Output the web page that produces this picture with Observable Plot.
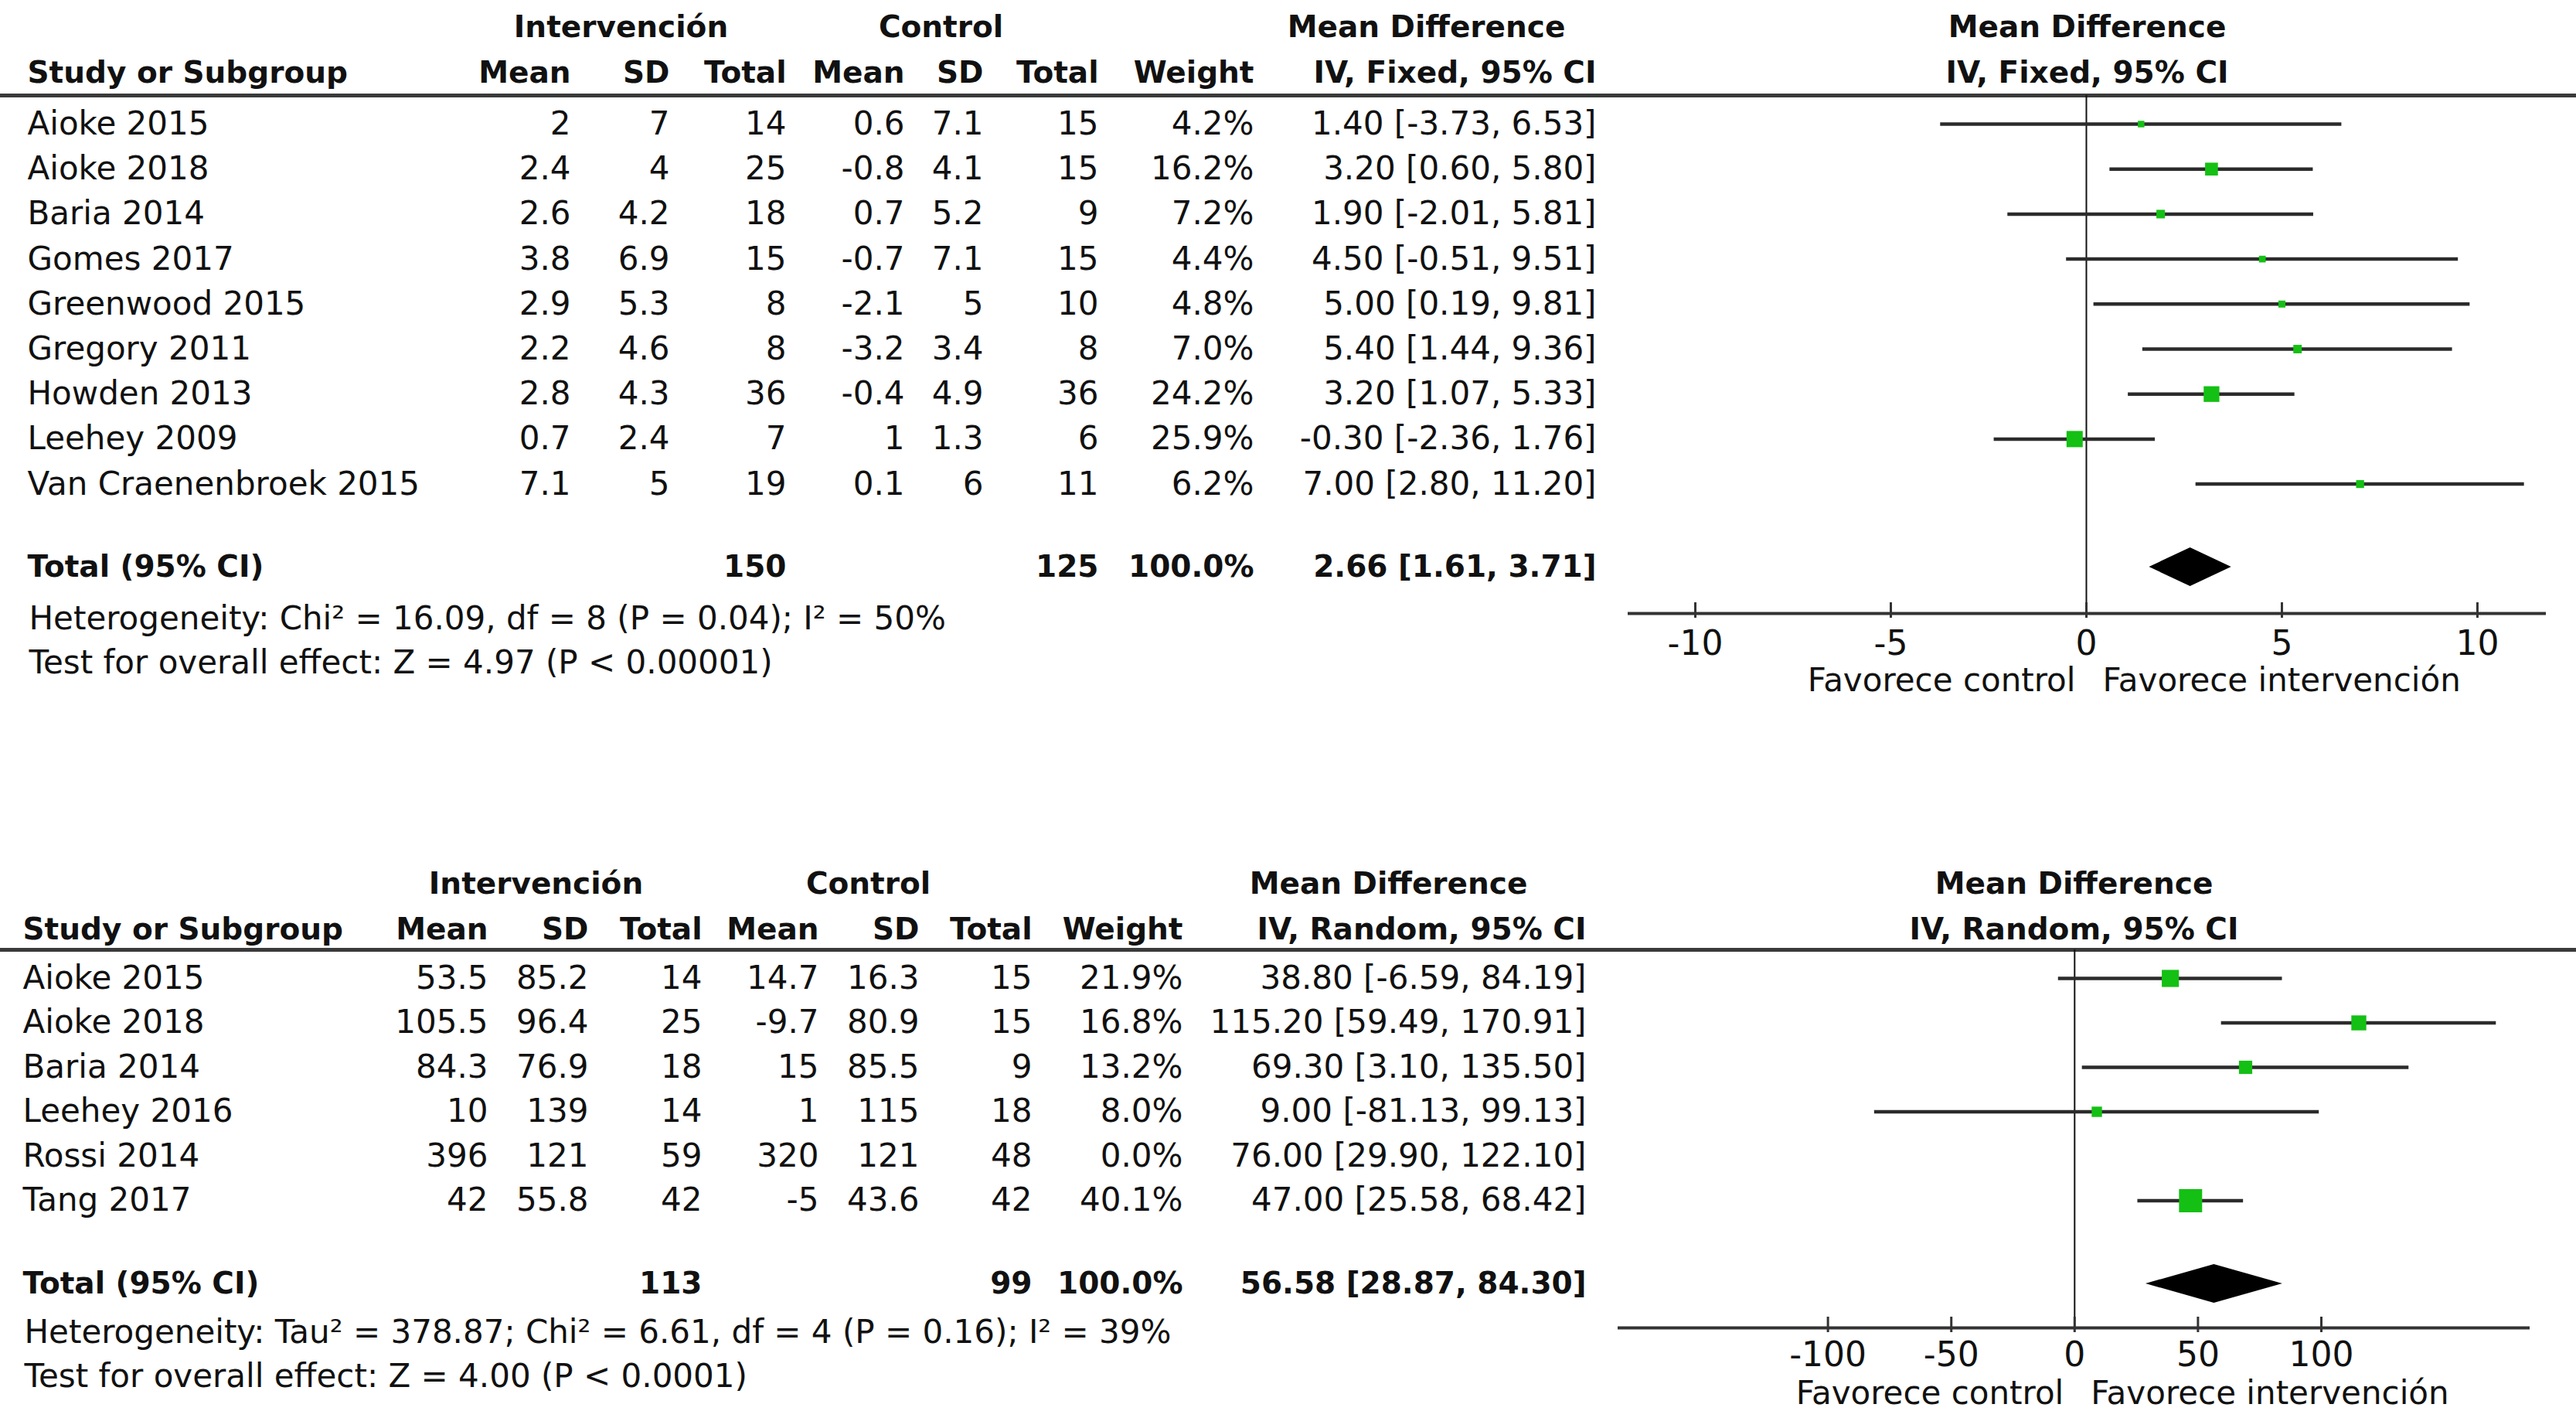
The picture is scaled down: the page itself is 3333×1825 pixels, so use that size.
<!DOCTYPE html>
<html><head><meta charset="utf-8">
<script src="https://cdn.jsdelivr.net/npm/d3@7"></script>
<script src="https://cdn.jsdelivr.net/npm/@observablehq/plot@0.6"></script>
<style>
html,body{margin:0;padding:0;background:#fff;}
#chart{width:3333px;height:1825px;position:relative;overflow:hidden;background:#fff;}
#chart svg{display:block;}
</style></head><body><div id="chart"></div>
<script>
// ---------- Panel 1 (IV, Fixed) ----------
const studies1 = ["Aioke 2015","Aioke 2018","Baria 2014","Gomes 2017","Greenwood 2015","Gregory 2011","Howden 2013","Leehey 2009","Van Craenenbroek 2015"];
const intMean1 = [2, 2.4, 2.6, 3.8, 2.9, 2.2, 2.8, 0.7, 7.1];
const intSD1   = [7, 4, 4.2, 6.9, 5.3, 4.6, 4.3, 2.4, 5];
const intN1    = [14, 25, 18, 15, 8, 8, 36, 7, 19];
const ctlMean1 = [0.6, -0.8, 0.7, -0.7, -2.1, -3.2, -0.4, 1, 0.1];
const ctlSD1   = [7.1, 4.1, 5.2, 7.1, 5, 3.4, 4.9, 1.3, 6];
const ctlN1    = [15, 15, 9, 15, 10, 8, 36, 6, 11];
const weight1  = [4.2, 16.2, 7.2, 4.4, 4.8, 7.0, 24.2, 25.9, 6.2];
const md1      = [1.40, 3.20, 1.90, 4.50, 5.00, 5.40, 3.20, -0.30, 7.00];
const lo1      = [-3.73, 0.60, -2.01, -0.51, 0.19, 1.44, 1.07, -2.36, 2.80];
const hi1      = [6.53, 5.80, 5.81, 9.51, 9.81, 9.36, 5.33, 1.76, 11.20];
const totalIntN1 = 150, totalCtlN1 = 125, totalWeight1 = 100.0;
const totalMD1 = 2.66, totalLo1 = 1.61, totalHi1 = 3.71;
const heterogeneity1 = "Heterogeneity: Chi² = 16.09, df = 8 (P = 0.04); I² = 50%";
const overall1 = "Test for overall effect: Z = 4.97 (P < 0.00001)";
const method1 = "IV, Fixed, 95% CI";
const xTicks1 = [-10, -5, 0, 5, 10];

// ---------- Panel 2 (IV, Random) ----------
const studies2 = ["Aioke 2015","Aioke 2018","Baria 2014","Leehey 2016","Rossi 2014","Tang 2017"];
const intMean2 = [53.5, 105.5, 84.3, 10, 396, 42];
const intSD2   = [85.2, 96.4, 76.9, 139, 121, 55.8];
const intN2    = [14, 25, 18, 14, 59, 42];
const ctlMean2 = [14.7, -9.7, 15, 1, 320, -5];
const ctlSD2   = [16.3, 80.9, 85.5, 115, 121, 43.6];
const ctlN2    = [15, 15, 9, 18, 48, 42];
const weight2  = [21.9, 16.8, 13.2, 8.0, 0.0, 40.1];
const md2      = [38.80, 115.20, 69.30, 9.00, 76.00, 47.00];
const lo2      = [-6.59, 59.49, 3.10, -81.13, 29.90, 25.58];
const hi2      = [84.19, 170.91, 135.50, 99.13, 122.10, 68.42];
const totalIntN2 = 113, totalCtlN2 = 99, totalWeight2 = 100.0;
const totalMD2 = 56.58, totalLo2 = 28.87, totalHi2 = 84.30;
const heterogeneity2 = "Heterogeneity: Tau² = 378.87; Chi² = 6.61, df = 4 (P = 0.16); I² = 39%";
const overall2 = "Test for overall effect: Z = 4.00 (P < 0.0001)";
const method2 = "IV, Random, 95% CI";
const xTicks2 = [-100, -50, 0, 50, 100];

const colHeaders = ["Study or Subgroup","Mean","SD","Total","Mean","SD","Total","Weight"];
const groupHeaders = ["Intervención","Control","Mean Difference"];
const favControl = "Favorece control";
const favInt = "Favorece intervención";
const plotHeader = "Mean Difference";

// ---------- layout (pixels) ----------
const FONT = "DejaVu Sans";
const TXT = "#111";
const GREEN = "#14c014";

const layout1 = {
  height: 1000, r0: 160, pitch: 58.2,
  cols: [35, 738, 866, 1017, 1170, 1272, 1421, 1622, 2065],
  groups: [803, 1217, 1845],
  hdr1: 35, hdr2: 94, rule: 123, total: 733, foot1: 800, foot2: 857,
  axis: 793, tickLab: 832, fav: 880,
  xDomain: [-11.72, 11.76], xRange: [2106, 3294], rMax: 11.85
};
const layout2 = {
  height: 825, r0: 265, pitch: 57.5,
  cols: [29, 631, 761, 908, 1059, 1189, 1335, 1530, 2052],
  groups: [693, 1123, 1796],
  hdr1: 143, hdr2: 202, rule: 228, total: 660, foot1: 723, foot2: 780,
  axis: 717, tickLab: 752, fav: 802,
  xDomain: [-185.1, 184.6], xRange: [2093, 3273], rMax: 16.9
};

const ciText = (m, l, h) => `${m.toFixed(2)} [${l.toFixed(2)}, ${h.toFixed(2)}]`;

function panel(L, d) {
  const toRow = px => (px - L.r0) / L.pitch;
  const keys = ["study","m1","sd1","n1","m2","sd2","n2","w","ci"];
  const anchors = ["start","end","end","end","end","end","end","end","end"];
  const rows = d.studies.map((s, i) => ({
    row: i, study: s,
    m1: String(d.intMean[i]), sd1: String(d.intSD[i]), n1: String(d.intN[i]),
    m2: String(d.ctlMean[i]), sd2: String(d.ctlSD[i]), n2: String(d.ctlN[i]),
    w: d.weight[i].toFixed(1) + "%", ci: ciText(d.md[i], d.lo[i], d.hi[i]),
    weight: d.weight[i], md: d.md[i], lo: d.lo[i], hi: d.hi[i]
  }));
  const graphRows = rows.filter(r => r.weight > 0);
  const tRow = toRow(L.total);
  const totalRow = {row: tRow, study: "Total (95% CI)", m1: "", sd1: "", n1: String(d.totIntN),
    m2: "", sd2: "", n2: String(d.totCtlN), w: d.totW.toFixed(1) + "%", ci: ciText(d.totMD, d.totLo, d.totHi)};
  const hh = 25 / L.pitch;
  const diamond = [
    {x: d.totLo, y1: tRow, y2: tRow},
    {x: d.totMD, y1: tRow - hh, y2: tRow + hh},
    {x: d.totHi, y1: tRow, y2: tRow}
  ];
  const marks = [];
  // header rule
  marks.push(Plot.ruleY([toRow(L.rule)], {stroke: "#3a3a3a", strokeWidth: 5}));
  // group headers
  groupHeaders.forEach((g, j) => marks.push(Plot.text([g], {text: t => t, y: toRow(L.hdr1), frameAnchor: "left", dx: L.groups[j], textAnchor: "middle", fontSize: 39, fontWeight: "bold", fill: TXT})));
  // column headers
  const hdrs = colHeaders.concat([d.method]);
  hdrs.forEach((h, j) => marks.push(Plot.text([h], {text: t => t, y: toRow(L.hdr2), frameAnchor: "left", dx: L.cols[j], textAnchor: anchors[j], fontSize: 39, fontWeight: "bold", fill: TXT})));
  // plot headers
  const cx = (L.xRange[0] + L.xRange[1]) / 2;
  marks.push(Plot.text([plotHeader], {text: t => t, y: toRow(L.hdr1), frameAnchor: "left", dx: cx, textAnchor: "middle", fontSize: 39, fontWeight: "bold", fill: TXT}));
  marks.push(Plot.text([d.method], {text: t => t, y: toRow(L.hdr2), frameAnchor: "left", dx: cx, textAnchor: "middle", fontSize: 39, fontWeight: "bold", fill: TXT}));
  // table body
  keys.forEach((k, j) => {
    marks.push(Plot.text(rows, {y: "row", text: k, frameAnchor: "left", dx: L.cols[j], textAnchor: anchors[j], fontSize: 42, fill: TXT}));
    marks.push(Plot.text([totalRow], {y: "row", text: k, frameAnchor: "left", dx: L.cols[j], textAnchor: anchors[j], fontSize: 39, fontWeight: "bold", fill: TXT}));
  });
  // footers
  marks.push(Plot.text([d.het], {text: t => t, y: toRow(L.foot1), frameAnchor: "left", dx: L.cols[0] + 2, textAnchor: "start", fontSize: 42, fill: TXT}));
  marks.push(Plot.text([d.overall], {text: t => t, y: toRow(L.foot2), frameAnchor: "left", dx: L.cols[0] + 2, textAnchor: "start", fontSize: 42, fill: TXT}));
  // null line
  marks.push(Plot.ruleX([0], {y1: toRow(L.rule), y2: toRow(L.axis), stroke: "#111", strokeWidth: 2}));
  // CIs and squares
  marks.push(Plot.ruleY(graphRows, {y: "row", x1: "lo", x2: "hi", stroke: "#2b2b2b", strokeWidth: 4.5}));
  marks.push(Plot.dot(graphRows, {x: "md", y: "row", r: "weight", symbol: "square", fill: GREEN, stroke: "none"}));
  // diamond
  marks.push(Plot.areaY(diamond, {x: "x", y1: "y1", y2: "y2", fill: "#000"}));
  // axis
  marks.push(Plot.ruleY([toRow(L.axis)], {x1: L.xDomain[0], x2: L.xDomain[1], stroke: "#333", strokeWidth: 4}));
  marks.push(Plot.ruleX(d.ticks, {x: v => v, y1: toRow(L.axis - 14), y2: toRow(L.axis + 6), stroke: "#333", strokeWidth: 3}));
  marks.push(Plot.text(d.ticks, {x: v => v, y: toRow(L.tickLab), text: v => String(v), fontSize: 44, fill: TXT}));
  marks.push(Plot.text([favControl], {x: () => 0, y: toRow(L.fav), text: t => t, textAnchor: "end", dx: -14, fontSize: 42, fill: TXT}));
  marks.push(Plot.text([favInt], {x: () => 0, y: toRow(L.fav), text: t => t, textAnchor: "start", dx: 21, fontSize: 42, fill: TXT}));

  return Plot.plot({
    width: 3333, height: L.height,
    marginTop: 0, marginRight: 0, marginBottom: 0, marginLeft: 0,
    x: {type: "linear", domain: L.xDomain, range: L.xRange, axis: null},
    y: {type: "linear", domain: [0, 1], range: [L.r0, L.r0 + L.pitch], axis: null},
    r: {type: "sqrt", domain: [0, d3.max(d.weight)], range: [0, L.rMax]},
    style: {fontFamily: FONT, background: "white", overflow: "visible"},
    marks
  });
}

const chart = document.getElementById("chart");
chart.appendChild(panel(layout1, {
  studies: studies1, intMean: intMean1, intSD: intSD1, intN: intN1,
  ctlMean: ctlMean1, ctlSD: ctlSD1, ctlN: ctlN1, weight: weight1,
  md: md1, lo: lo1, hi: hi1, totIntN: totalIntN1, totCtlN: totalCtlN1, totW: totalWeight1,
  totMD: totalMD1, totLo: totalLo1, totHi: totalHi1, het: heterogeneity1, overall: overall1,
  method: method1, ticks: xTicks1
}));
chart.appendChild(panel(layout2, {
  studies: studies2, intMean: intMean2, intSD: intSD2, intN: intN2,
  ctlMean: ctlMean2, ctlSD: ctlSD2, ctlN: ctlN2, weight: weight2,
  md: md2, lo: lo2, hi: hi2, totIntN: totalIntN2, totCtlN: totalCtlN2, totW: totalWeight2,
  totMD: totalMD2, totLo: totalLo2, totHi: totalHi2, het: heterogeneity2, overall: overall2,
  method: method2, ticks: xTicks2
}));
</script></body></html>
